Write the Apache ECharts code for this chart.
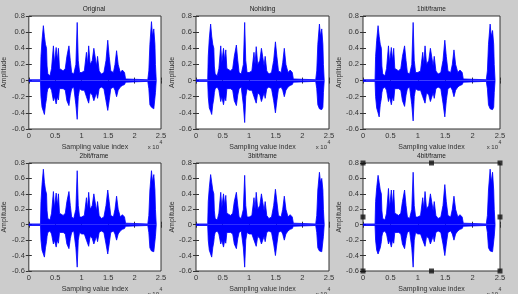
<!DOCTYPE html>
<html>
<head>
<meta charset="utf-8">
<script src="https://cdn.jsdelivr.net/npm/echarts@6/dist/echarts.min.js"></script>
<style>
  html, body { margin: 0; padding: 0; background: #cccccc; }
  #main { width: 518px; height: 294px; }
</style>
</head>
<body>
<div id="main"></div>
<script>
// sample index positions where the envelope was read
var samples = [0,2200,2300,2500,2750,2950,3150,3350,3450,3600,4000,4300,4650,4850,5170,5400,5600,5800,6100,6500,
  6900,7200,7590,7850,8100,8500,8900,9150,9350,9600,10000,10500,10900,11100,11320,11600,12000,12300,12560,12800,
  13000,13300,13700,14200,14600,14930,15200,15500,16000,16300,16600,16900,17300,17700,18100,18300,18600,22500,22700,22900,
  23200,23400,23640,23850,23950,24100];

var titles = ['Original', 'Nohiding', '1bit/frame', '2bit/frame', '3bit/frame', '4bit/frame'];
var xTicks = ['0', '0.5', '1', '1.5', '2', '2.5'];

// upper / lower envelope of each waveform
var origHi = [0.01,0.01,0.30,0.50,0.68,0.55,0.45,0.40,0.18,0.08,0.06,0.15,0.43,0.22,0.41,0.25,0.40,0.15,0.15,0.12,
  0.15,0.30,0.43,0.25,0.10,0.08,0.20,0.72,0.25,0.10,0.10,0.12,0.35,0.20,0.43,0.20,0.25,0.40,0.39,0.18,
  0.30,0.12,0.08,0.10,0.25,0.50,0.30,0.12,0.10,0.20,0.37,0.20,0.10,0.13,0.10,0.02,0.01,0.01,0.12,0.45,
  0.73,0.55,0.64,0.45,0.20,0];
var origLo = [-0.01,-0.01,-0.20,-0.33,-0.38,-0.42,-0.30,-0.22,-0.15,-0.10,-0.08,-0.12,-0.25,-0.20,-0.29,-0.20,-0.24,-0.10,-0.10,-0.10,
  -0.12,-0.25,-0.31,-0.18,-0.10,-0.08,-0.30,-0.48,-0.20,-0.10,-0.12,-0.12,-0.20,-0.18,-0.28,-0.15,-0.18,-0.25,-0.25,-0.15,
  -0.22,-0.10,-0.08,-0.10,-0.25,-0.37,-0.25,-0.10,-0.08,-0.12,-0.20,-0.12,-0.08,-0.06,-0.05,-0.02,-0.01,-0.01,-0.10,-0.30,
  -0.33,-0.33,-0.35,-0.33,-0.15,0];

var nohHi = [0.01,0.01,0.30,0.52,0.70,0.55,0.45,0.40,0.18,0.08,0.06,0.15,0.43,0.22,0.40,0.25,0.38,0.15,0.15,0.12,
  0.15,0.30,0.44,0.25,0.10,0.08,0.20,0.72,0.25,0.10,0.10,0.12,0.35,0.20,0.42,0.20,0.25,0.40,0.38,0.18,
  0.30,0.12,0.08,0.10,0.25,0.48,0.30,0.12,0.10,0.22,0.40,0.20,0.10,0.13,0.10,0.02,0.01,0.01,0.12,0.45,
  0.70,0.55,0.64,0.45,0.20,0];
var nohLo = [-0.01,-0.01,-0.20,-0.34,-0.38,-0.42,-0.30,-0.22,-0.15,-0.10,-0.08,-0.12,-0.26,-0.20,-0.30,-0.20,-0.25,-0.10,-0.10,-0.10,
  -0.12,-0.25,-0.31,-0.18,-0.10,-0.08,-0.30,-0.52,-0.20,-0.10,-0.12,-0.12,-0.20,-0.18,-0.28,-0.15,-0.18,-0.26,-0.25,-0.15,
  -0.22,-0.10,-0.08,-0.10,-0.25,-0.40,-0.25,-0.10,-0.08,-0.12,-0.20,-0.12,-0.08,-0.06,-0.05,-0.02,-0.01,-0.01,-0.10,-0.30,
  -0.35,-0.33,-0.36,-0.33,-0.15,0];

var b1Hi = [0.01,0.01,0.30,0.50,0.68,0.55,0.45,0.40,0.18,0.08,0.06,0.15,0.43,0.22,0.41,0.25,0.40,0.15,0.15,0.12,
  0.15,0.30,0.43,0.25,0.10,0.08,0.20,0.72,0.25,0.10,0.10,0.12,0.35,0.20,0.43,0.20,0.25,0.40,0.39,0.18,
  0.30,0.12,0.08,0.10,0.25,0.50,0.30,0.12,0.10,0.20,0.38,0.20,0.10,0.13,0.10,0.02,0.01,0.01,0.12,0.45,
  0.70,0.55,0.62,0.45,0.20,0];
var b1Lo = [-0.01,-0.01,-0.20,-0.34,-0.40,-0.45,-0.30,-0.22,-0.15,-0.10,-0.08,-0.12,-0.26,-0.20,-0.30,-0.20,-0.25,-0.10,-0.10,-0.10,
  -0.12,-0.25,-0.32,-0.18,-0.10,-0.08,-0.30,-0.50,-0.20,-0.10,-0.12,-0.12,-0.20,-0.18,-0.28,-0.15,-0.18,-0.26,-0.25,-0.15,
  -0.22,-0.10,-0.08,-0.10,-0.28,-0.45,-0.25,-0.10,-0.08,-0.12,-0.20,-0.12,-0.08,-0.06,-0.05,-0.02,-0.01,-0.01,-0.10,-0.30,
  -0.35,-0.33,-0.36,-0.33,-0.15,0];

var b2Hi = [0.01,0.01,0.30,0.52,0.72,0.55,0.45,0.40,0.18,0.08,0.06,0.15,0.43,0.22,0.41,0.25,0.40,0.15,0.15,0.12,
  0.15,0.30,0.43,0.25,0.10,0.08,0.20,0.70,0.25,0.10,0.10,0.12,0.35,0.20,0.42,0.20,0.25,0.40,0.39,0.18,
  0.30,0.12,0.08,0.10,0.25,0.45,0.30,0.12,0.10,0.20,0.37,0.20,0.10,0.13,0.10,0.02,0.01,0.01,0.12,0.45,
  0.70,0.55,0.65,0.45,0.20,0];
var b2Lo = [-0.01,-0.01,-0.20,-0.33,-0.38,-0.42,-0.30,-0.22,-0.15,-0.10,-0.08,-0.12,-0.25,-0.20,-0.29,-0.20,-0.24,-0.10,-0.10,-0.10,
  -0.12,-0.25,-0.31,-0.18,-0.10,-0.08,-0.30,-0.55,-0.20,-0.10,-0.12,-0.12,-0.20,-0.18,-0.28,-0.15,-0.18,-0.25,-0.25,-0.15,
  -0.22,-0.10,-0.08,-0.10,-0.25,-0.38,-0.25,-0.10,-0.08,-0.12,-0.20,-0.12,-0.08,-0.06,-0.05,-0.02,-0.01,-0.01,-0.10,-0.30,
  -0.34,-0.33,-0.35,-0.33,-0.15,0];

var b3Hi = [0.01,0.01,0.30,0.48,0.65,0.55,0.45,0.40,0.18,0.08,0.06,0.15,0.42,0.22,0.40,0.25,0.38,0.15,0.15,0.12,
  0.15,0.30,0.42,0.25,0.10,0.08,0.20,0.64,0.25,0.10,0.10,0.12,0.35,0.20,0.42,0.20,0.25,0.40,0.38,0.18,
  0.30,0.12,0.08,0.10,0.25,0.46,0.30,0.12,0.10,0.20,0.37,0.20,0.10,0.13,0.10,0.02,0.01,0.01,0.12,0.45,
  0.68,0.55,0.60,0.45,0.20,0];
var b3Lo = [-0.01,-0.01,-0.20,-0.33,-0.38,-0.42,-0.30,-0.22,-0.15,-0.10,-0.08,-0.12,-0.25,-0.20,-0.29,-0.20,-0.24,-0.10,-0.10,-0.10,
  -0.12,-0.25,-0.31,-0.18,-0.10,-0.08,-0.30,-0.55,-0.20,-0.10,-0.12,-0.12,-0.20,-0.18,-0.28,-0.15,-0.18,-0.25,-0.25,-0.15,
  -0.22,-0.10,-0.08,-0.10,-0.25,-0.40,-0.25,-0.10,-0.08,-0.12,-0.20,-0.12,-0.08,-0.06,-0.05,-0.02,-0.01,-0.01,-0.10,-0.30,
  -0.34,-0.33,-0.35,-0.33,-0.15,0];

var b4Hi = [0.01,0.01,0.30,0.48,0.64,0.55,0.45,0.40,0.18,0.08,0.06,0.15,0.47,0.22,0.45,0.25,0.45,0.15,0.15,0.12,
  0.15,0.30,0.45,0.25,0.10,0.08,0.20,0.68,0.25,0.10,0.10,0.12,0.35,0.20,0.43,0.20,0.25,0.40,0.39,0.18,
  0.30,0.12,0.08,0.10,0.25,0.52,0.30,0.12,0.10,0.20,0.37,0.20,0.10,0.13,0.10,0.02,0.01,0.01,0.12,0.45,
  0.72,0.55,0.68,0.45,0.20,0];
var b4Lo = [-0.01,-0.01,-0.20,-0.33,-0.38,-0.40,-0.30,-0.22,-0.15,-0.10,-0.08,-0.12,-0.25,-0.20,-0.29,-0.20,-0.24,-0.10,-0.10,-0.10,
  -0.12,-0.25,-0.31,-0.18,-0.10,-0.08,-0.30,-0.55,-0.20,-0.10,-0.12,-0.12,-0.20,-0.18,-0.28,-0.15,-0.18,-0.25,-0.25,-0.15,
  -0.22,-0.10,-0.08,-0.10,-0.25,-0.40,-0.25,-0.10,-0.08,-0.12,-0.20,-0.12,-0.08,-0.06,-0.05,-0.02,-0.01,-0.01,-0.10,-0.30,
  -0.34,-0.33,-0.35,-0.33,-0.15,0];

// selection handles on the last axes (matlab "selected" look)
var handlePts = [[0,0.8],[12500,0.8],[25000,0.8],[0,0.1],[25000,0.1],[0,-0.6],[12500,-0.6],[25000,-0.6]];

var envHi = [origHi, nohHi, b1Hi, b2Hi, b3Hi, b4Hi];
var envLo = [origLo, nohLo, b1Lo, b2Lo, b3Lo, b4Lo];

var myChart = echarts.init(document.getElementById('main'));

var FONT = 'Liberation Sans';
var BLUE = '#0000ff';
var lefts = [27, 196, 363];
var widths = [134, 133, 137];
var tops = [16, 163];
var H = 113;

var grids = [], xAxes = [], yAxes = [], series = [], graphics = [];

function pairUp(xs, ys) {
  var out = [];
  for (var i = 0; i < xs.length; i++) out.push([xs[i], ys[i]]);
  return out;
}

for (var k = 0; k < 6; k++) {
  var row = Math.floor(k / 3), col = k % 3;
  grids.push({
    left: lefts[col], top: tops[row], width: widths[col], height: H,
    show: true, backgroundColor: '#ffffff', borderColor: '#333', borderWidth: 1
  });
  var xBase = {
    gridIndex: k, type: 'value', min: 0, max: 25000, interval: 5000,
    axisLine: { show: false },
    axisTick: { inside: true, length: 3, lineStyle: { color: '#333' } },
    splitLine: { show: false }
  };
  xAxes.push(Object.assign({}, xBase, {
    position: 'bottom',
    axisLabel: { fontSize: 7.5, color: '#333', fontFamily: FONT, margin: 3,
      formatter: function (v) { return xTicks[Math.round(v / 5000)]; } },
    name: 'Sampling value index', nameLocation: 'middle', nameGap: 15,
    nameTextStyle: { fontSize: 7, color: '#333', fontFamily: FONT }
  }));
  xAxes.push(Object.assign({}, xBase, { position: 'top', axisLabel: { show: false } }));

  var yBase = {
    gridIndex: k, type: 'value', min: -0.6, max: 0.8, interval: 0.2,
    axisLine: { show: false },
    axisTick: { inside: true, length: 3, lineStyle: { color: '#333' } },
    splitLine: { show: false }
  };
  yAxes.push(Object.assign({}, yBase, {
    position: 'left',
    axisLabel: { fontSize: 7.5, color: '#333', fontFamily: FONT, margin: 4,
      formatter: function (v) { return String(Math.round(v * 10) / 10); } },
    name: 'Amplitude', nameLocation: 'middle', nameGap: 18, nameRotate: 90,
    nameTextStyle: { fontSize: 7, color: '#333', fontFamily: FONT }
  }));
  yAxes.push(Object.assign({}, yBase, { position: 'right', axisLabel: { show: false } }));

  // upper and lower envelope, each filled to zero
  [envHi[k], envLo[k]].forEach(function (env) {
    series.push({
      type: 'line', xAxisIndex: 2 * k, yAxisIndex: 2 * k, data: pairUp(samples, env),
      symbol: 'none', animation: false,
      lineStyle: { color: BLUE, width: 0.8 },
      areaStyle: { color: BLUE, opacity: 1, origin: 0 }
    });
  });

  var cx = lefts[col] + widths[col] / 2;
  graphics.push({
    type: 'text', x: cx, y: tops[row] - 7,
    style: { text: titles[k], fontSize: 6.5, fill: '#222', fontFamily: FONT, align: 'center', verticalAlign: 'middle' }
  });
  var rx = lefts[col] + widths[col];
  var by = tops[row] + H + 18;
  graphics.push({
    type: 'text', x: rx - 2, y: by,
    style: { text: 'x 10', fontSize: 6, fill: '#333', fontFamily: FONT, align: 'right', verticalAlign: 'middle' }
  });
  graphics.push({
    type: 'text', x: rx - 1.5, y: by - 4,
    style: { text: '4', fontSize: 5, fill: '#333', fontFamily: FONT, align: 'left', verticalAlign: 'middle' }
  });
}

series.push({
  type: 'scatter', xAxisIndex: 10, yAxisIndex: 10, data: handlePts,
  symbol: 'rect', symbolSize: 5, clip: false, animation: false, z: 10,
  itemStyle: { color: '#111' }
});

myChart.setOption({
  backgroundColor: '#cccccc',
  animation: false,
  grid: grids,
  xAxis: xAxes,
  yAxis: yAxes,
  series: series,
  graphic: graphics
});
</script>
</body>
</html>
